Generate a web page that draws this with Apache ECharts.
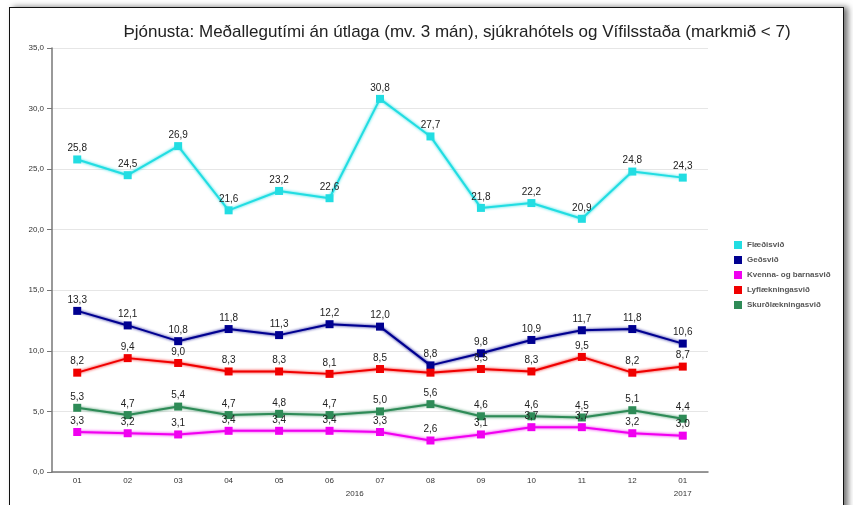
<!DOCTYPE html>
<html>
<head>
<meta charset="utf-8">
<script src="https://cdn.jsdelivr.net/npm/echarts@6/dist/echarts.min.js"></script>
<style>
  html, body { margin: 0; padding: 0; background: #fff; }
  .wrap { position: relative; width: 853px; height: 505px; overflow: hidden; }
  .frame {
    position: absolute; left: 9px; top: 7px; width: 833px; height: 520px;
    border: 1px solid #111; border-bottom: none;
    box-shadow: 4px 0 6px rgba(0,0,0,0.55);
    background: #fff;
  }
  #chart { position: absolute; left: 0; top: 0; width: 853px; height: 505px; }
</style>
</head>
<body>
<div class="wrap">
  <div class="frame"></div>
  <div id="chart"></div>
</div>
<script>
var months = ['01', '02', '03', '04', '05', '06', '07', '08', '09', '10', '11', '12', '01'];
var yearPos = [5.5, 12];
var yearText = ['2016', '2017'];

var names = ['Flæðisvið', 'Geðsvið', 'Kvenna- og barnasvið', 'Lyflækningasvið', 'Skurðlækningasvið'];
var flaedi = [25.8, 24.5, 26.9, 21.6, 23.2, 22.6, 30.8, 27.7, 21.8, 22.2, 20.9, 24.8, 24.3];
var ged = [13.3, 12.1, 10.8, 11.8, 11.3, 12.2, 12.0, 8.8, 9.8, 10.9, 11.7, 11.8, 10.6];
var kvenna = [3.3, 3.2, 3.1, 3.4, 3.4, 3.4, 3.3, 2.6, 3.1, 3.7, 3.7, 3.2, 3.0];
var lyf = [8.2, 9.4, 9.0, 8.3, 8.3, 8.1, 8.5, 8.2, 8.5, 8.3, 9.5, 8.2, 8.7];
var skurd = [5.3, 4.7, 5.4, 4.7, 4.8, 4.7, 5.0, 5.6, 4.6, 4.6, 4.5, 5.1, 4.4];
var colors = ['#22dde2', '#000090', '#f000f0', '#f00000', '#2e8b57'];

function comma(v) { return v.toFixed(1).replace('.', ','); }

function makeSeries(name, data, color, hideIdx) {
  return {
    name: name,
    type: 'line',
    data: data.map(function (v, i) {
      return hideIdx === i ? { value: v, label: { show: false } } : v;
    }),
    symbol: 'rect',
    symbolSize: 8,
    showAllSymbol: true,
    color: color,
    lineStyle: { width: 2, color: color, shadowColor: color, shadowBlur: 3 },
    itemStyle: { color: color },
    label: {
      show: true, position: 'top', distance: 2,
      fontFamily: 'Liberation Sans', fontSize: 10, color: '#222',
      formatter: function (p) { return comma(p.value); }
    },
    emphasis: { disabled: true }
  };
}

var chart = echarts.init(document.getElementById('chart'));
chart.setOption({
  animation: false,
  title: {
    text: 'Þjónusta: Meðallegutími án útlaga (mv. 3 mán), sjúkrahótels og Vífilsstaða (markmið < 7)',
    left: 452, top: 19, textAlign: 'center',
    textStyle: { fontFamily: 'Liberation Sans', fontSize: 17, fontWeight: 'normal', color: '#222' }
  },
  legend: {
    orient: 'vertical', left: 729, top: 236,
    icon: 'rect', itemWidth: 8, itemHeight: 8, itemGap: 7,
    data: names,
    textStyle: { fontFamily: 'Liberation Sans', fontSize: 8, fontWeight: 'bold', color: '#555' }
  },
  grid: { left: 52, right: 145, top: 48, bottom: 33, outerBoundsMode: 'none' },
  xAxis: [{
    type: 'category', data: months, boundaryGap: true,
    axisLine: { onZero: false, lineStyle: { color: '#777', width: 1.5 } },
    axisTick: { show: false },
    axisLabel: { fontFamily: 'Liberation Sans', fontSize: 8, color: '#333', margin: 5 }
  }, {
    type: 'value', position: 'bottom', min: -0.5, max: 12.5, offset: 13,
    axisLine: { show: false, onZero: false }, axisTick: { show: false }, splitLine: { show: false },
    axisLabel: {
      customValues: yearPos, fontFamily: 'Liberation Sans', fontSize: 8, color: '#333', margin: 5,
      formatter: function (v) { return yearText[yearPos.indexOf(v)]; }
    }
  }],
  yAxis: {
    type: 'value', min: 0, max: 35, interval: 5,
    axisLine: { show: true, onZero: false, lineStyle: { color: '#777', width: 1.5 } },
    axisTick: { show: true, length: 5, lineStyle: { color: '#777' } },
    splitLine: { lineStyle: { color: '#e6e6e6' } },
    axisLabel: { fontFamily: 'Liberation Sans', fontSize: 8, color: '#333', margin: 8, formatter: comma }
  },
  series: [
    makeSeries(names[0], flaedi, colors[0]),
    makeSeries(names[1], ged, colors[1]),
    makeSeries(names[2], kvenna, colors[2]),
    makeSeries(names[3], lyf, colors[3], 7),
    makeSeries(names[4], skurd, colors[4])
  ]
});
</script>
</body>
</html>
